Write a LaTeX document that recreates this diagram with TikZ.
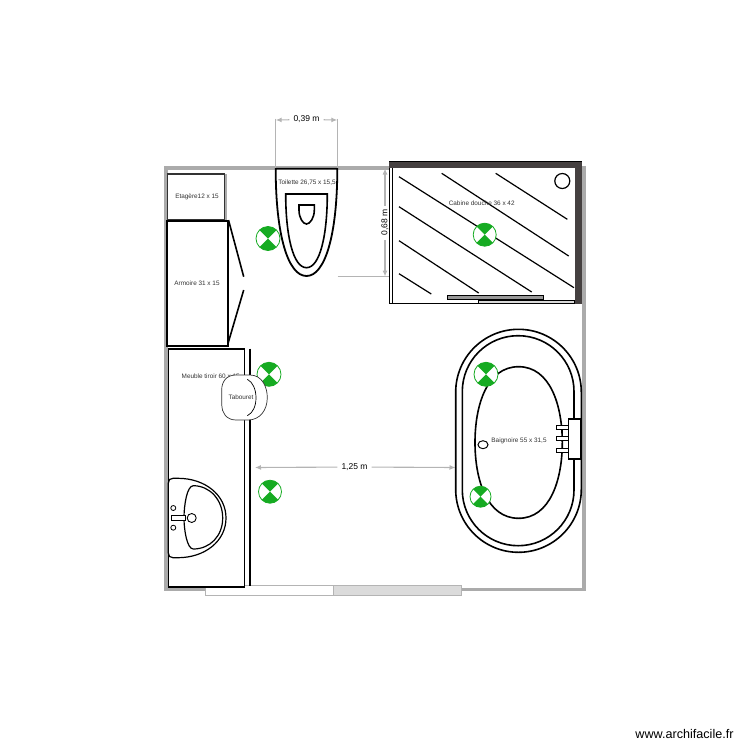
\documentclass[tikz,border=0pt]{standalone}
\usepackage{fontspec}
\setmainfont{Liberation Sans}
\usetikzlibrary{arrows.meta,shapes.geometric}
\definecolor{wallgray}{HTML}{ABABAB}
\definecolor{dimgray}{HTML}{B4B4B4}
\definecolor{markgreen}{HTML}{16AB22}
\definecolor{darkband}{HTML}{454040}
\definecolor{lbl}{HTML}{333333}
\tikzset{
  wall/.style={draw=wallgray,line width=3.4pt},
  thick line/.style={draw=black,line width=1.8pt},
  furn/.style={draw=black,line width=1.6pt},
  dimext/.style={draw=dimgray,line width=1.1pt},
  dimline/.style={draw=dimgray,line width=1.1pt,-{Latex[length=6pt,width=5pt]}},
  dimtext/.style={text=black,font=\fontsize{8.5}{10}\selectfont,inner sep=4pt},
  lab/.style={text=lbl,font=\fontsize{6.4}{7.5}\selectfont,inner sep=0pt},
  gmark/.style={circle,draw=markgreen,fill=white,line width=.8pt,minimum size=#1,inner sep=0pt,
    path picture={\fill[markgreen] (path picture bounding box.north west) -- (path picture bounding box.north east)
      -- (path picture bounding box.south west) -- (path picture bounding box.south east) -- cycle;}},
}
\begin{document}
\begin{tikzpicture}[x=1pt,y=-1pt]
\useasboundingbox (0,0) rectangle (750,750);
% walls
\draw[wall] (205,589.5) -- (166,589.5) -- (166,168) -- (584,168) -- (584,589.5) -- (461.7,589.5);
% window / door
\draw[draw=dimgray,fill=white,line width=.9pt] (205.3,585.3) rectangle (333.3,595);
\draw[draw=dimgray,fill=black!14,line width=.9pt] (333.3,585.3) rectangle (461.7,595);
% shelf
\draw[wallgray,line width=1.4pt] (225.8,174) -- (225.8,220);
\node[draw=black!80,fill=white,line width=1.1pt,minimum width=57.4pt,minimum height=46pt,inner sep=0pt] (shelf) at (196,197) {};
\node[lab] (shelflab) at (197,197) {Etagère12 x 15};
% wardrobe
\node[draw=black,fill=white,line width=1.6pt,minimum width=61pt,minimum height=125pt,inner sep=0pt] (wardrobe) at (197.2,283.3) {};
\node[lab] (wardlab) at (197,283) {Armoire 31 x 15};
\draw[furn] (wardrobe.north east) -- (243.7,276.7);
\draw[furn] (243.7,290) -- (228,343.5);
% toilet
\draw[thick line,fill=white] (275.7,168.7) -- (337.3,168.7) .. controls (337.3,235) and (325,276) .. (306.5,276) .. controls (288,276) and (275.7,235) .. (275.7,168.7) -- cycle;
\draw[furn] (285.7,194) -- (327.3,194) .. controls (327.3,235) and (320,267.7) .. (306.5,267.7) .. controls (293,267.7) and (285.7,235) .. (285.7,194) -- cycle;
\draw[furn] (299,205) -- (314.3,205) -- (314.3,210) .. controls (314.3,218) and (310,224) .. (306.5,224) .. controls (303,224) and (299,218) .. (299,210) -- cycle;
\node[lab] (toilab) at (307,182.5) {Toilette 26,75 x 15,5};
% dimension 0,39
\coordinate (d39a) at (275.7,120);
\coordinate (d39b) at (337.3,120);
\draw[dimext] (275.7,118.5) -- (275.7,168);
\draw[dimext] (337.3,118.5) -- (337.3,168);
\node[dimtext] (t39) at (306.5,119.5) {0,39 m};
\draw[dimline] (t39) -- (d39a);
\draw[dimline] (t39) -- (d39b);
% dimension 0,68
\draw[dimext] (337.6,276.7) -- (389,276.7);
\coordinate (d68a) at (385,168.5);
\coordinate (d68b) at (385,276.5);
\node[dimtext,rotate=90] (t68) at (385,222.7) {0,68 m};
\draw[dimline] (t68) -- (d68a);
\draw[dimline] (t68) -- (d68b);
% shower
\draw[draw=black,fill=white,line width=1.4pt] (389.5,162) rectangle (581.5,303.6);
\fill[darkband] (389,161.5) rectangle (581.7,168.3);
\fill[darkband] (574.7,161.5) rectangle (581.7,304);
\draw[black,line width=.9pt] (392.7,168) -- (392.7,304);
\begin{scope}[black,line width=1.2pt]
\draw (495.7,173.3) -- (567.3,219.3);
\draw (441.7,173.3) -- (568.7,256);
\draw (399,176.7) -- (574,287.7);
\draw (399,206.7) -- (531.7,292);
\draw (399,240.7) -- (478.7,293);
\draw (399,273.7) -- (431.3,294);
\end{scope}
\node[draw=black,fill=white,circle,line width=1.2pt,minimum size=15pt,inner sep=0pt] (drain) at (562.3,181) {};
\draw[draw=black,fill=black!40,line width=.9pt] (447.3,295.7) rectangle (543.7,299.7);
\draw[draw=black,fill=black!15,line width=.8pt] (478.7,300.4) rectangle (574.5,303);
\node[lab] (showerlab) at (481.7,203.7) {Cabine douche 36 x 42};
\node[gmark=23pt] (m1) at (484.7,234.7) {};
\node[gmark=24pt] (m2) at (268,238.5) {};
% cabinet
\draw[furn,fill=white] (168.3,348.7) rectangle (244.3,586.7);
\draw[black,line width=1.9pt] (250,348.7) -- (250,585.7);
\node[lab,anchor=west] (cablab) at (181.5,376.7) {Meuble tiroir 60 x 15};
% sink
\draw[furn,line width=1.2pt] (173,478.3) -- (178,478.3) .. controls (205,478.3) and (226,495) .. (226,518) .. controls (226,541) and (205,557.7) .. (178,557.7) -- (173,557.7) .. controls (170,557.7) and (168.3,556) .. (168.3,553) -- (168.3,483) .. controls (168.3,480) and (170,478.3) .. (173,478.3) -- cycle;
\draw[furn,line width=1.2pt] (193.3,485.7) .. controls (210,485.7) and (222.7,500) .. (222.7,518) .. controls (222.7,536) and (210,549) .. (193.3,549) .. controls (187,549) and (184,530) .. (184,518) .. controls (184,505) and (187,485.7) .. (193.3,485.7) -- cycle;
\draw[black,line width=.9pt,fill=white] (171.7,515.3) rectangle (185,520.7);
\node[draw=black,fill=white,circle,line width=.9pt,minimum size=9pt,inner sep=0pt] (tap) at (191.7,518) {};
\node[draw=black,circle,line width=.8pt,minimum size=5pt,inner sep=0pt] (h1) at (173.3,508) {};
\node[draw=black,circle,line width=.8pt,minimum size=5pt,inner sep=0pt] (h2) at (173.3,527.7) {};
% marks under stool
\node[gmark=24pt] (m3) at (269,374.3) {};
\node[gmark=23pt] (m4) at (270,491.7) {};
% stool
\draw[draw=black!80,fill=white,line width=.7pt] (236,375) -- (250,375) .. controls (262,375) and (267.3,387) .. (267.3,397.5) .. controls (267.3,410) and (260,420) .. (248,420) -- (236,420) .. controls (226,420) and (221.7,412) .. (221.7,405) -- (221.7,390) .. controls (221.7,382) and (226,375) .. (236,375) -- cycle;
\draw[black,line width=.7pt] (247.3,379.3) .. controls (253,382) and (256,390) .. (256,397.7) .. controls (256,406) and (253,413) .. (247.3,415.7);
\node[lab] (stoollab) at (241,397.7) {Tabouret};
% dimension 1,25
\coordinate (d125a) at (255,467.5);
\coordinate (d125b) at (455.5,467.5);
\node[dimtext] (t125) at (354.5,467) {1,25 m};
\draw[dimline] (t125) -- (d125a);
\draw[dimline] (t125) -- (d125b);
% bathtub
\draw[furn,fill=white,rounded corners=62.8pt] (455.7,329.3) rectangle (581.3,552.3);
\draw[furn,rounded corners=55.8pt] (462.3,335.7) rectangle (574,545.7);
\draw[furn] (518.6,366.7) .. controls (550,366.7) and (562.3,405) .. (562.3,442.5) .. controls (562.3,480) and (550,518.3) .. (518.6,518.3) .. controls (487,518.3) and (475,480) .. (475,442.5) .. controls (475,405) and (487,366.7) .. (518.6,366.7) -- cycle;
\node[draw=black,ellipse,line width=1pt,minimum width=10pt,minimum height=8pt,inner sep=0pt] (plug) at (483,444.7) {};
\node[lab] (bathlab) at (519,441) {Baignoire 55 x 31,5};
\draw[furn,fill=white] (568.3,418.7) rectangle (580.7,458.7);
\draw[black,line width=1pt,fill=white] (556.7,425) rectangle (568.3,429);
\draw[black,line width=1pt,fill=white] (556.7,436) rectangle (568.3,440.7);
\draw[black,line width=1pt,fill=white] (556.7,448.3) rectangle (568.3,452.3);
\draw[black,line width=1pt] (562,429) -- (562,436) (562,440.7) -- (562,448.3);
\node[gmark=24pt] (m5) at (486,374.3) {};
\node[gmark=21pt] (m6) at (480.5,496.7) {};
% credit
\node[text=black,font=\fontsize{12.6}{15}\selectfont,inner sep=0pt] (credit) at (684.5,734) {www.archifacile.fr};
\end{tikzpicture}
\end{document}
